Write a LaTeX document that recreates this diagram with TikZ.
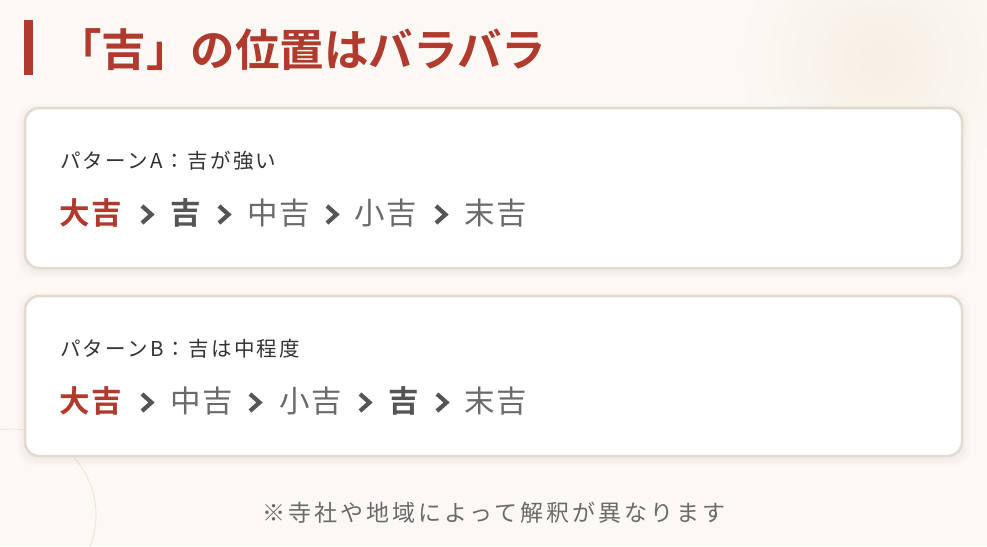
\documentclass[tikz,border=0pt]{standalone}
\usepackage{fontspec}
\setmainfont{Noto Sans CJK JP}[BoldFont=* Bold]
\usepackage{tikz}

\definecolor{pagebg}{HTML}{FCF9F5}
\definecolor{glow}{HTML}{F6EFE4}
\definecolor{accent}{HTML}{B03A2E}
\definecolor{cardline}{HTML}{E2DACF}
\definecolor{ringline}{HTML}{F0E2DE}
\definecolor{strong}{HTML}{555555}
\definecolor{plain}{HTML}{6A6A6A}
\definecolor{labeltext}{HTML}{333333}

\tikzset{
  card/.style={rectangle, rounded corners=14pt, draw=cardline, line width=2.5pt,
    fill=white, minimum width=937pt, minimum height=160pt, inner sep=0pt},
  word/.style={anchor=west, inner sep=0pt,
    font=\fontsize{30.5}{36}\selectfont\addfontfeature{LetterSpace=5}},
  top/.style={word, text=accent,
    font=\fontsize{30.5}{36}\selectfont\bfseries\addfontfeature{LetterSpace=5}},
  kichi/.style={word, text=strong,
    font=\fontsize{30.5}{36}\selectfont\bfseries\addfontfeature{LetterSpace=5}},
  other/.style={word, text=plain},
  patlabel/.style={anchor=west, inner sep=0pt, text=labeltext,
    font=\fontsize{20.5}{24}\selectfont\addfontfeature{LetterSpace=11}},
  chev/.style={draw=strong, line width=4.2pt, line cap=butt, line join=miter}
}

\begin{document}
\begin{tikzpicture}[x=1pt, y=-1pt]
  % page
  \useasboundingbox (0,0) rectangle (987,546);
  \fill[pagebg] (0,0) rectangle (987,546);
  \begin{scope}
    \clip (0,0) rectangle (987,546);
    \shade[inner color=glow, outer color=pagebg] (880,60) circle (150pt);
    \draw[ringline, line width=0.9pt] (10,515) circle (86pt);
  \end{scope}

  % heading
  \fill[accent] (24,20) rectangle (33,75);
  \node (title) [anchor=west, inner sep=0pt, text=accent,
    font=\fontsize{44.5}{52}\selectfont\bfseries] at (57,50) {「吉」の位置はバラバラ};

  % cards with a soft shadow
  \foreach \cy in {188,376} {
    \foreach \s in {1,3,5,7}
      \fill[black, opacity=0.012, rounded corners=16pt]
        (25-\s,\cy-80-\s+3) rectangle (962+\s,\cy+80+\s+3);
  }
  \node (cardA) [card] at (493.5,188) {};
  \node (cardB) [card] at (493.5,376) {};

  % pattern A
  \node (labelA) [patlabel] at (60,161) {パターンA：吉が強い};
  \node (a1) [top] at (59,213) {大吉};
  \node (a2) [kichi] at (170,213) {吉};
  \node (a3) [other] at (247,213) {中吉};
  \node (a4) [other] at (354,213) {小吉};
  \node (a5) [other] at (464,213) {末吉};
  \foreach \x in {141,218,326,435}
    \draw[chev] (\x+1,206) -- (\x+10.5,214.5) -- (\x+1,223);

  % pattern B
  \node (labelB) [patlabel] at (60,349) {パターンB：吉は中程度};
  \node (b1) [top] at (59,401) {大吉};
  \node (b2) [other] at (170,401) {中吉};
  \node (b3) [other] at (279,401) {小吉};
  \node (b4) [kichi] at (388,401) {吉};
  \node (b5) [other] at (464,401) {末吉};
  \foreach \x in {141,249,359,436}
    \draw[chev] (\x+1,394) -- (\x+10.5,402.5) -- (\x+1,411);

  % footnote
  \node (note) [text=plain, inner sep=0pt,
    font=\fontsize{23}{28}\selectfont\addfontfeature{LetterSpace=13}]
    at (494,513) {※寺社や地域によって解釈が異なります};
\end{tikzpicture}
\end{document}
